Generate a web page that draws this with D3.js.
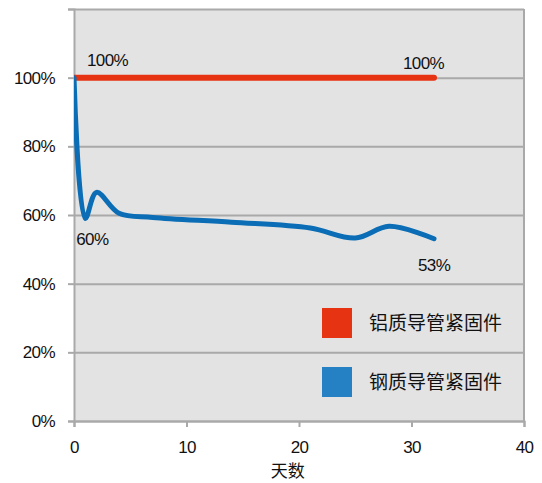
<!DOCTYPE html>
<html>
<head>
<meta charset="utf-8">
<script src="https://cdn.jsdelivr.net/npm/d3@7"></script>
<style>
  body { margin: 0; background: #fff; }
  text { font-family: "Liberation Sans", Arial, sans-serif; fill: #111; }
  .cjk { font-family: "Noto Sans CJK SC", sans-serif; }
</style>
</head>
<body>
<div id="chart"></div>
<script>
// data
const days = [0, 1, 2, 4, 7, 14, 21, 25, 28, 32];
const steelValues = [100, 59, 66.6, 60.5, 59.3, 57.9, 56.2, 53.3, 56.7, 53.1];
const aluDays = [0, 32];
const aluValues = [100, 100];
const yTicks = [0, 20, 40, 60, 80, 100, 120];
const xTicks = [0, 10, 20, 30, 40];
const seriesNames = ["铝质导管紧固件", "钢质导管紧固件"];
const pointLabels = [
  {x: 0, y: 100, text: "100%", dx: 13, dy: -12},
  {x: 32, y: 100, text: "100%", dx: -31, dy: -9},
  {x: 1, y: 59, text: "60%", dx: -9, dy: 27},
  {x: 32, y: 53.1, text: "53%", dx: -16, dy: 32}
];

const RED = "#e63312";
const BLUE = "#0a6db5";
const BLUE_KEY = "#2681c4";
const GRID = "#a9a9a9";

const margin = {top: 9, left: 74, right: 18, bottom: 62};
const width = 542 - margin.left - margin.right;
const height = 483 - margin.top - margin.bottom;

const svg = d3.select("#chart").append("svg")
  .attr("width", 542).attr("height", 483);
const g = svg.append("g").attr("transform", `translate(${margin.left},${margin.top})`);

const x = d3.scaleLinear().domain([0, 40]).range([0, width]);
const y = d3.scaleLinear().domain([0, 120]).range([height, 0]);

svg.append("defs").append("clipPath").attr("id", "plotClip")
  .append("rect").attr("x", 0).attr("y", -10).attr("width", width).attr("height", height + 10);

// plot background
g.append("rect").attr("width", width).attr("height", height).attr("fill", "#e3e3e3");

// horizontal grid
g.append("g")
  .call(d3.axisLeft(y).tickValues(yTicks).tickSize(-width).tickFormat(""))
  .call(s => s.select(".domain").remove())
  .call(s => s.selectAll("line").attr("stroke", GRID).attr("stroke-width", 2));

// right border
g.append("line").attr("x1", width).attr("x2", width).attr("y1", 0).attr("y2", height)
  .attr("stroke", GRID).attr("stroke-width", 2);

// y axis
const yAxis = g.append("g")
  .call(d3.axisLeft(y).tickValues(yTicks).tickSize(6).tickPadding(13)
    .tickFormat(d => d === 120 ? "" : d + "%"));
yAxis.select(".domain").attr("stroke", GRID).attr("stroke-width", 2);
yAxis.selectAll("line").attr("stroke", GRID).attr("stroke-width", 2);
yAxis.selectAll("text").style("font-size", "17px").style("letter-spacing", "-0.6px").attr("fill", "#111");

// x axis
const xAxis = g.append("g").attr("transform", `translate(0,${height})`)
  .call(d3.axisBottom(x).tickValues(xTicks).tickSize(6).tickPadding(14));
xAxis.select(".domain").attr("stroke", GRID).attr("stroke-width", 2);
xAxis.selectAll("line").attr("stroke", GRID).attr("stroke-width", 2);
xAxis.selectAll("text").style("font-size", "17px").style("letter-spacing", "-0.6px").attr("fill", "#111");

g.append("text").attr("class", "cjk")
  .attr("x", x(19)).attr("y", height + 56)
  .attr("text-anchor", "middle").style("font-size", "17px")
  .text("天数");

// lines
const line = d3.line()
  .x(d => x(d[0])).y(d => y(d[1]))
  .curve(d3.curveCatmullRom.alpha(0.5));

const plot = g.append("g").attr("clip-path", "url(#plotClip)");

plot.append("path")
  .datum(aluDays.map((d, i) => [d, aluValues[i]]))
  .attr("fill", "none").attr("stroke", RED).attr("stroke-width", 6)
  .attr("stroke-linecap", "round")
  .attr("d", line);

plot.append("path")
  .datum(days.map((d, i) => [d, steelValues[i]]))
  .attr("fill", "none").attr("stroke", BLUE).attr("stroke-width", 5)
  .attr("stroke-linejoin", "round").attr("stroke-linecap", "round")
  .attr("d", line);

// point labels
g.selectAll(".plabel").data(pointLabels).enter().append("text")
  .attr("class", "plabel")
  .attr("x", d => x(d.x) + d.dx).attr("y", d => y(d.y) + d.dy)
  .style("font-size", "17px").style("letter-spacing", "-0.6px")
  .text(d => d.text);

// legend
const legend = g.append("g").attr("class", "legend");
const keyColors = [RED, BLUE_KEY];
seriesNames.forEach((name, i) => {
  legend.append("rect")
    .attr("x", 248).attr("y", 299 + i * 59)
    .attr("width", 30).attr("height", 30)
    .attr("fill", keyColors[i]);
  legend.append("text").attr("class", "cjk")
    .attr("x", 295).attr("y", 314 + i * 59)
    .attr("dy", "0.35em")
    .style("font-size", "19px")
    .text(name);
});
</script>
</body>
</html>
